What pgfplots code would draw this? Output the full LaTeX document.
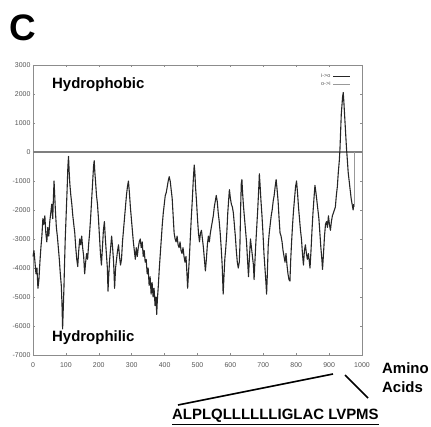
\documentclass[border=0pt]{standalone}
\usepackage{fontspec}
\setmainfont{Liberation Sans}
\usepackage{pgfplots}
\pgfplotsset{compat=1.18}
\definecolor{frame}{HTML}{8C8C8C}
\definecolor{ticklab}{HTML}{555555}
\definecolor{zeroline}{HTML}{7F7F7F}

\begin{document}
\begin{tikzpicture}[x=1bp,y=1bp]
\useasboundingbox (-33,-72) rectangle (398,355);
\begin{axis}[
  at={(0,0)}, anchor=south west,
  scale only axis,
  width=329bp, height=290bp,
  xmin=0, xmax=1000, ymin=-7000, ymax=3000,
  xtick={0,100,...,1000},
  ytick={-7000,-6000,...,3000},
  scaled ticks=false,
  /pgf/number format/assume math mode=true,
  /pgf/number format/set thousands separator={},
  tick label style={font=\fontsize{7}{8}\selectfont, text=ticklab},
  xticklabel style={yshift=-4bp},
  yticklabel style={xshift=1bp},
  axis line style={draw=frame, line width=0.7bp},
  tick style={draw=frame, line width=0.5bp},
  major tick length=2.5bp,
  clip=false,
  legend style={draw=none, fill=none, font=\fontsize{5.5}{6}\selectfont,
    at={(0.975,0.985)}, anchor=north east, row sep=-1bp,
    text=ticklab},
  legend plot pos=right,
  legend cell align=right,
]
\addplot[zeroline, line width=1.3bp, forget plot] coordinates {(0,0) (1000,0)};
\addplot[black!85, line width=1.1bp, line join=round] coordinates {
(0,-3600) (3,-3400) (6,-3800) (9,-4200) (12,-4000) (15,-4700) (18,-4400) (21,-3800)
(24,-3300) (27,-2900) (30,-2300) (33,-2500) (36,-2200) (39,-2800) (42,-3100) (45,-2600)
(48,-2900) (51,-2400) (54,-2100) (57,-1800) (60,-2300) (62,-1600) (64,-1000) (66,-1500)
(68,-2000) (71,-2600) (74,-2900) (77,-3300) (80,-3700) (83,-4200) (86,-4600) (88,-5200)
(90,-6100) (92,-5400) (94,-4700) (96,-3800) (98,-3000) (100,-2400) (102,-1800) (104,-1200)
(106,-500) (108,-150) (110,-700) (112,-1100) (115,-1500) (118,-1800) (121,-2200) (124,-2500)
(127,-2800) (130,-3300) (133,-3700) (136,-3950) (139,-3400) (142,-3000) (145,-3200) (148,-2900)
(151,-3300) (154,-3600) (157,-4200) (160,-3800) (163,-3500) (166,-3700) (169,-3200) (172,-2800)
(175,-2300) (178,-1700) (181,-1100) (184,-500) (186,-300) (188,-700) (190,-1000) (193,-1500)
(196,-1800) (199,-2300) (202,-2900) (205,-3500) (208,-3900) (211,-3300) (214,-2700) (217,-2400)
(220,-3000) (223,-3500) (226,-4000) (228,-4800) (230,-4300) (233,-3700) (236,-3300) (239,-2900)
(242,-3300) (245,-3800) (248,-4700) (251,-4000) (254,-3700) (257,-3400) (260,-3200) (263,-3600)
(266,-3900) (269,-3700) (272,-3100) (275,-2700) (278,-2300) (281,-1900) (284,-1500) (287,-1200)
(290,-1000) (293,-1400) (296,-1900) (299,-2300) (302,-2700) (305,-3100) (308,-3400) (311,-3700)
(314,-3300) (317,-3600) (320,-3300) (323,-3100) (326,-3000) (329,-3300) (332,-3100) (335,-3600)
(338,-3400) (341,-3800) (344,-3700) (347,-4200) (350,-4000) (353,-4600) (356,-4300) (359,-4900)
(362,-4500) (365,-5000) (368,-4700) (371,-5300) (374,-5000) (376,-5600) (378,-5100) (381,-4600)
(384,-4000) (387,-3500) (390,-3000) (393,-2500) (396,-2100) (399,-1800) (402,-1500) (405,-1400)
(408,-1200) (411,-1000) (414,-850) (417,-1000) (420,-1300) (423,-1600) (426,-2200) (429,-2800)
(432,-3000) (435,-3100) (438,-2900) (441,-3200) (444,-3300) (447,-3100) (450,-3400) (453,-3500)
(456,-3300) (459,-3600) (462,-3800) (465,-3600) (468,-4200) (470,-4700) (472,-4300) (475,-3700)
(478,-3000) (481,-2300) (484,-1700) (487,-1000) (490,-450) (492,-700) (494,-1200) (497,-1700)
(500,-2300) (503,-2800) (506,-3100) (509,-2800) (512,-2700) (515,-3000) (518,-3300) (521,-3700)
(524,-4100) (527,-3700) (530,-3200) (533,-2900) (536,-3100) (539,-2800) (542,-2600) (545,-2400)
(548,-2200) (551,-1900) (554,-1700) (557,-1500) (560,-1700) (563,-2100) (566,-2400) (569,-2800)
(572,-3300) (575,-3900) (578,-4900) (580,-4400) (583,-3700) (586,-3300) (589,-2800) (592,-2100)
(595,-1600) (597,-1300) (600,-1600) (603,-1800) (606,-1900) (609,-2100) (612,-2500) (615,-2900)
(618,-3400) (621,-3800) (624,-4000) (627,-3800) (629,-3200) (631,-2000) (633,-1100) (635,-950)
(637,-1400) (640,-1900) (643,-2300) (646,-2700) (649,-3100) (652,-3700) (655,-4300) (658,-3600)
(661,-3000) (664,-3300) (667,-3600) (670,-3900) (672,-4400) (674,-3900) (677,-3200) (680,-2600)
(683,-2000) (686,-1300) (688,-750) (690,-1100) (693,-1700) (696,-2200) (699,-2800) (702,-3500)
(705,-4000) (708,-4500) (710,-4900) (712,-4300) (715,-3200) (718,-2800) (721,-2500) (724,-2200)
(727,-2000) (730,-1700) (733,-1500) (736,-1200) (739,-950) (742,-1300) (745,-1700) (748,-2300)
(751,-2800) (754,-2900) (757,-3100) (760,-3400) (763,-3600) (766,-3800) (769,-3500) (772,-3900)
(775,-4200) (778,-4400) (781,-4450) (783,-3800) (786,-3100) (789,-2500) (792,-2000) (795,-1600)
(798,-1200) (801,-1000) (804,-1400) (807,-1900) (810,-2300) (813,-2700) (816,-3000) (819,-3500)
(822,-3900) (825,-3400) (828,-3200) (831,-3500) (834,-3700) (837,-3500) (840,-3800) (842,-4000)
(845,-3400) (848,-2700) (851,-2100) (854,-1600) (857,-1150) (860,-1400) (863,-1700) (866,-2000)
(869,-2300) (872,-2800) (875,-3300) (878,-3700) (880,-4050) (883,-3500) (886,-2900) (889,-2500)
(892,-2400) (895,-2600) (898,-2200) (901,-2500) (904,-2700) (907,-2400) (910,-2200) (913,-2100)
(916,-2000) (919,-1900) (922,-1500) (925,-1200) (928,-700) (931,-300) (933,100) (935,700)
(937,1300) (939,1600) (941,1900) (943,2050) (945,1700) (947,1300) (949,900) (951,500)
(953,100) (955,-200) (958,-700) (961,-1000) (964,-1300) (967,-1600) (970,-1800) (973,-2000)
(975,-1800)
};
\addlegendentry{i-{}>o}
\addplot[gray!80, line width=0.7bp] coordinates {(976,-1900) (976,0)};
\addlegendentry{o-{}>i}
\end{axis}
\node[font=\bfseries\fontsize{37}{40}\selectfont, inner sep=0] at (-10.5,327.5) {C};
\node[font=\bfseries\fontsize{15}{17}\selectfont, anchor=west, inner sep=0] at (19,270) {Hydrophobic};
\node[font=\bfseries\fontsize{15}{17}\selectfont, anchor=west, inner sep=0] at (19,17) {Hydrophilic};
\node[font=\bfseries\fontsize{15}{17}\selectfont, anchor=west, inner sep=0] at (349,-13) {Amino};
\node[font=\bfseries\fontsize{15}{17}\selectfont, anchor=west, inner sep=0] at (349,-32) {Acids};
\node[font=\bfseries\fontsize{15}{17}\selectfont, anchor=west, inner sep=0] at (139,-62) {\underline{ALPLQLLLLLLIGLAC LVPMS}};
\draw[black, line width=1.6bp] (145,-50) -- (300,-19);
\draw[black, line width=1.6bp] (312,-20) -- (335,-43);
\end{tikzpicture}
\end{document}
